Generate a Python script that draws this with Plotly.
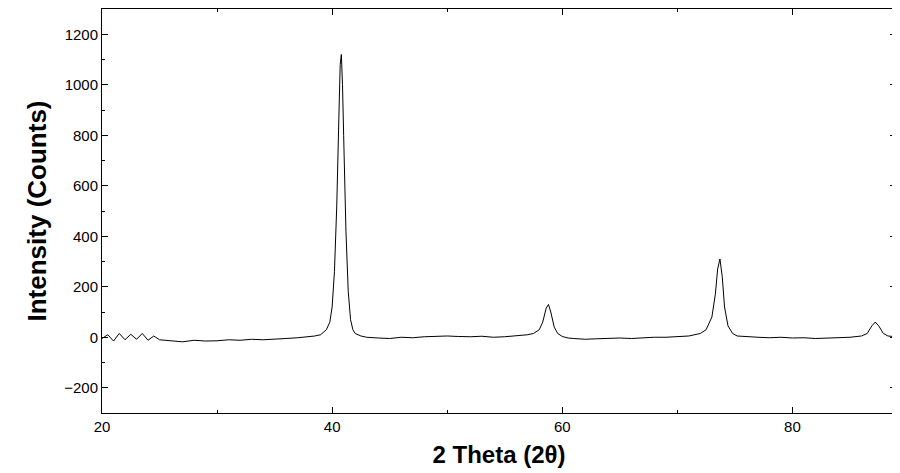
import plotly.graph_objects as go

two_theta = [20,20.5,21,21.5,22,22.5,23,23.5,24,24.5,25,26,27,28,29,30,31,32,33,34,35,36,37,38,38.5,39,39.5,39.8,40.0,40.2,40.4,40.6,40.7,40.8,40.9,41.0,41.2,41.4,41.6,41.8,42.0,42.5,43,44,45,46,47,48,49,50,51,52,53,54,55,56,57,57.5,58,58.3,58.6,58.8,59.0,59.3,59.6,60,60.5,61,62,63,64,65,66,67,68,69,70,71,72,72.5,73,73.3,73.5,73.7,73.9,74.1,74.4,74.8,75.2,76,77,78,79,80,81,82,83,84,85,86,86.5,86.9,87.2,87.5,87.9,88.3,89]
counts = [-5,10,-15,15,-10,12,-8,15,-12,5,-10,-15,-18,-12,-15,-14,-10,-12,-8,-10,-6,-5,-2,2,5,10,30,60,120,260,520,900,1080,1120,1000,800,420,180,70,30,15,5,0,-3,-5,0,-2,2,3,5,3,2,4,0,2,5,10,15,30,60,115,130,100,40,15,3,-3,-5,-8,-6,-5,-3,-5,-2,0,0,3,5,15,30,80,170,270,310,240,120,45,15,5,2,0,-2,0,-3,-2,-5,-3,-2,0,5,15,45,60,45,15,5,2]

fig = go.Figure(go.Scatter(x=two_theta, y=counts, mode="lines",
                           line=dict(color="black", width=1), showlegend=False))
axis = dict(showline=True, linecolor="black", linewidth=1, mirror="ticks", automargin=False,
            ticks="inside", ticklen=6, tickcolor="black", showgrid=False, zeroline=False,
            tickfont=dict(family="Liberation Sans", size=15, color="black"),
            minor=dict(ticks="inside", ticklen=3, tickcolor="black"))
fig.update_xaxes(range=[20, 89], dtick=20, tick0=20, minor_dtick=10,
                 title=dict(text="<b>2 Theta (2θ)</b>", font=dict(family="Liberation Sans", size=24, color="black"), standoff=12), **axis)
fig.update_yaxes(range=[-300, 1300], dtick=200, minor_dtick=100,
                 title=dict(text="<b>Intensity (Counts)</b>", font=dict(family="Liberation Sans", size=26, color="black"), standoff=10), **axis)
fig.update_layout(width=900, height=473, margin=dict(l=94, r=12, t=1, b=68),
                  plot_bgcolor="white", paper_bgcolor="white")
fig.write_html("out.html")
